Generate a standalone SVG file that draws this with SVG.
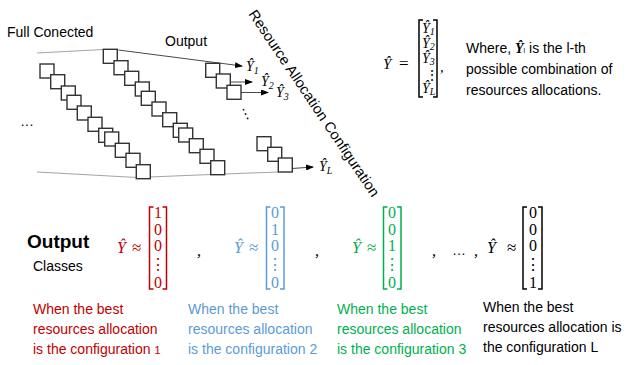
<svg xmlns="http://www.w3.org/2000/svg" width="627" height="365" viewBox="0 0 627 365">
<defs>
<marker id="ah" markerWidth="8" markerHeight="6" refX="7" refY="3" orient="auto" markerUnits="userSpaceOnUse">
<path d="M0,0 L8,3 L0,6 z" fill="#000"/>
</marker>
<style>
.sq{fill:#fff;stroke:#333;stroke-width:1.4}
.bd{fill:none;stroke:#999;stroke-width:0.9}
.ar{fill:none;stroke:#333;stroke-width:0.9}
.t{font-family:"Liberation Sans",Arial,sans-serif}
.m{font-family:"Liberation Serif","Times New Roman",serif;font-style:italic}
.s{font-family:"Liberation Serif","Times New Roman",serif}
.n{font-family:"Liberation Serif","Times New Roman",serif;text-anchor:middle}
.br{fill:none;stroke-width:1.5}
.red{fill:#C00000}
.blue{fill:#5B9BD5}
.green{fill:#00B050}
.blk{fill:#000}
</style>
</defs>
<rect width="627" height="365" fill="#fff"/>

<g font-size="14">
<text class="t" x="7" y="37">Full Conected</text>
<text class="t" x="165" y="46">Output</text>
<text class="t" x="20" y="126">…</text>
</g>

<g id="connectors">
<path class="bd" d="M37,53 L103.5,49.5"/>
<path class="bd" d="M37,172 L137,177.5 L211,174.5 L278,172"/>
<path class="ar" d="M118.5,50 L242,66" marker-end="url(#ah)"/>
<path class="ar" d="M230,82 L252,82" marker-end="url(#ah)"/>
<path class="ar" d="M241,92.5 L268,92.5" marker-end="url(#ah)"/>
<path class="ar" d="M292,168.5 L313,167" marker-end="url(#ah)"/>
</g>

<g id="layer1">
<rect class="sq" x="40" y="64" width="14" height="14"/>
<rect class="sq" x="50.7" y="74.7" width="14" height="14"/>
<rect class="sq" x="61.3" y="86" width="14" height="14"/>
<rect class="sq" x="67" y="95.3" width="14" height="14"/>
<rect class="sq" x="77.3" y="106" width="14" height="14"/>
<rect class="sq" x="88" y="117.3" width="14" height="14"/>
<rect class="sq" x="98.7" y="128.3" width="14" height="14"/>
<rect class="sq" x="104.7" y="132" width="14" height="14"/>
<rect class="sq" x="115.3" y="143.3" width="14" height="14"/>
<rect class="sq" x="126" y="153.3" width="14" height="14"/>
<rect class="sq" x="136.3" y="164.7" width="14" height="14"/>
</g>
<g id="layer2">
<rect class="sq" x="103.3" y="49.3" width="14" height="14"/>
<rect class="sq" x="114" y="60.7" width="14" height="14"/>
<rect class="sq" x="124.7" y="71.3" width="14" height="14"/>
<rect class="sq" x="135.3" y="82" width="14" height="14"/>
<rect class="sq" x="141.3" y="91.3" width="14" height="14"/>
<rect class="sq" x="152" y="102" width="14" height="14"/>
<rect class="sq" x="162.7" y="112.7" width="14" height="14"/>
<rect class="sq" x="173.3" y="123.3" width="14" height="14"/>
<rect class="sq" x="178.7" y="128" width="14" height="14"/>
<rect class="sq" x="189.3" y="138.7" width="14" height="14"/>
<rect class="sq" x="200" y="149.3" width="14" height="14"/>
<rect class="sq" x="210.7" y="160.7" width="14" height="14"/>
</g>
<g id="output-layer">
<rect class="sq" x="205.7" y="63.3" width="14" height="14"/>
<rect class="sq" x="216.3" y="74" width="14" height="14"/>
<rect class="sq" x="227" y="85.3" width="14" height="14"/>
<rect class="sq" x="257" y="136.7" width="14" height="14"/>
<rect class="sq" x="267.7" y="147.3" width="14" height="14"/>
<rect class="sq" x="278.3" y="158" width="14" height="14"/>
<text class="t" font-size="14" x="0" y="0" transform="translate(241,121) rotate(-25)">⋮</text>
</g>

<g id="output-labels" class="m" font-size="14">
<text x="246" y="71">Ŷ<tspan font-size="10" dy="3">1</tspan></text>
<text x="261" y="86">Ŷ<tspan font-size="10" dy="3">2</tspan></text>
<text x="276" y="97">Ŷ<tspan font-size="10" dy="3">3</tspan></text>
<text x="319" y="171">Ŷ<tspan font-size="10" dy="3">L</tspan></text>
</g>

<text class="t" font-size="14.5" transform="translate(248,14) rotate(56)" textLength="222" lengthAdjust="spacing">Resource Allocation Configuration</text>

<g id="vector-def">
<text class="m" font-size="15" x="383" y="69">Ŷ</text>
<text class="s" font-size="17" x="399" y="69">=</text>
<path class="br" stroke="#000" d="M423,20 H419 V97 H423"/>
<path class="br" stroke="#000" d="M433,20 H437 V97 H433"/>
<g class="m" font-size="14">
<text x="422" y="33">Ŷ<tspan font-size="10" dy="2">1</tspan></text>
<text x="422" y="48">Ŷ<tspan font-size="10" dy="2">2</tspan></text>
<text x="422" y="63">Ŷ<tspan font-size="10" dy="2">3</tspan></text>
<text x="425" y="80" font-style="normal">⋮</text>
<text x="422" y="93">Ŷ<tspan font-size="10" dy="2">L</tspan></text>
</g>
<text class="m" font-size="15" x="440" y="72">,</text>
</g>

<g id="where-text" class="t" font-size="14">
<text x="466" y="53">Where, <tspan font-family="Liberation Serif,serif" font-weight="bold" font-style="italic">Ŷ</tspan><tspan font-size="7">l</tspan> is the l-th</text>
<text x="466" y="74">possible combination of</text>
<text x="466" y="95">resources allocations.</text>
</g>

<g id="output-classes" class="t">
<text x="27" y="248" font-size="19" font-weight="bold">Output</text>
<text x="33" y="271" font-size="14">Classes</text>
</g>

<g id="class1">
<text class="m red" font-size="16" x="117" y="253">Ŷ</text>
<text class="s red" font-size="17" x="132" y="253">≈</text>
<path class="br" stroke="#C00000" d="M153.5,207 H149.5 V289 H153.5 M162.5,207 H166.5 V289 H162.5"/>
<g class="n red" font-size="16">
<text x="158" y="218">1</text><text x="158" y="235">0</text><text x="158" y="251">0</text><text x="158" y="270">⋮</text><text x="158" y="288">0</text>
</g>
<g class="t red" font-size="14">
<text x="33" y="314">When the best</text>
<text x="33" y="334">resources allocation</text>
<text x="33" y="354">is the configuration <tspan font-size="11">1</tspan></text>
</g>
</g>
<text class="m" font-size="16" x="197" y="256">,</text>

<g id="class2">
<text class="m blue" font-size="16" x="234" y="253">Ŷ</text>
<text class="s blue" font-size="17" x="249" y="253">≈</text>
<path class="br" stroke="#5B9BD5" d="M270.5,207 H266.5 V289 H270.5 M280,207 H284 V289 H280"/>
<g class="n blue" font-size="16">
<text x="275" y="218">0</text><text x="275" y="235">1</text><text x="275" y="251">0</text><text x="275" y="270">⋮</text><text x="275" y="288">0</text>
</g>
<g class="t blue" font-size="14">
<text x="188" y="314">When the best</text>
<text x="188" y="334">resources allocation</text>
<text x="188" y="354">is the configuration 2</text>
</g>
</g>
<text class="m" font-size="16" x="315" y="256">,</text>

<g id="class3">
<text class="m green" font-size="16" x="352" y="253">Ŷ</text>
<text class="s green" font-size="17" x="367" y="253">≈</text>
<path class="br" stroke="#00B050" d="M387.5,207 H383.5 V289 H387.5 M397,207 H401 V289 H397"/>
<g class="n green" font-size="16">
<text x="392" y="218">0</text><text x="392" y="235">0</text><text x="392" y="251">1</text><text x="392" y="270">⋮</text><text x="392" y="288">0</text>
</g>
<g class="t green" font-size="14">
<text x="337" y="314">When the best</text>
<text x="337" y="334">resources allocation</text>
<text x="337" y="354">is the configuration 3</text>
</g>
</g>
<text class="m" font-size="16" x="432" y="256">,</text>
<text class="t" font-size="14" x="452" y="255">…</text>
<text class="m" font-size="16" x="474" y="256">,</text>

<g id="classL">
<text class="m blk" font-size="16" x="487" y="253">Ŷ</text>
<text class="s blk" font-size="17" x="507" y="253">≈</text>
<path class="br" stroke="#000" d="M527,207 H523 V289 H527 M538,207 H542 V289 H538"/>
<g class="n blk" font-size="16">
<text x="533" y="218">0</text><text x="533" y="235">0</text><text x="533" y="251">0</text><text x="533" y="270">⋮</text><text x="533" y="288">1</text>
</g>
<g class="t blk" font-size="14">
<text x="483" y="312">When the best</text>
<text x="483" y="332">resources allocation is</text>
<text x="483" y="352">the configuration L</text>
</g>
</g>
</svg>
